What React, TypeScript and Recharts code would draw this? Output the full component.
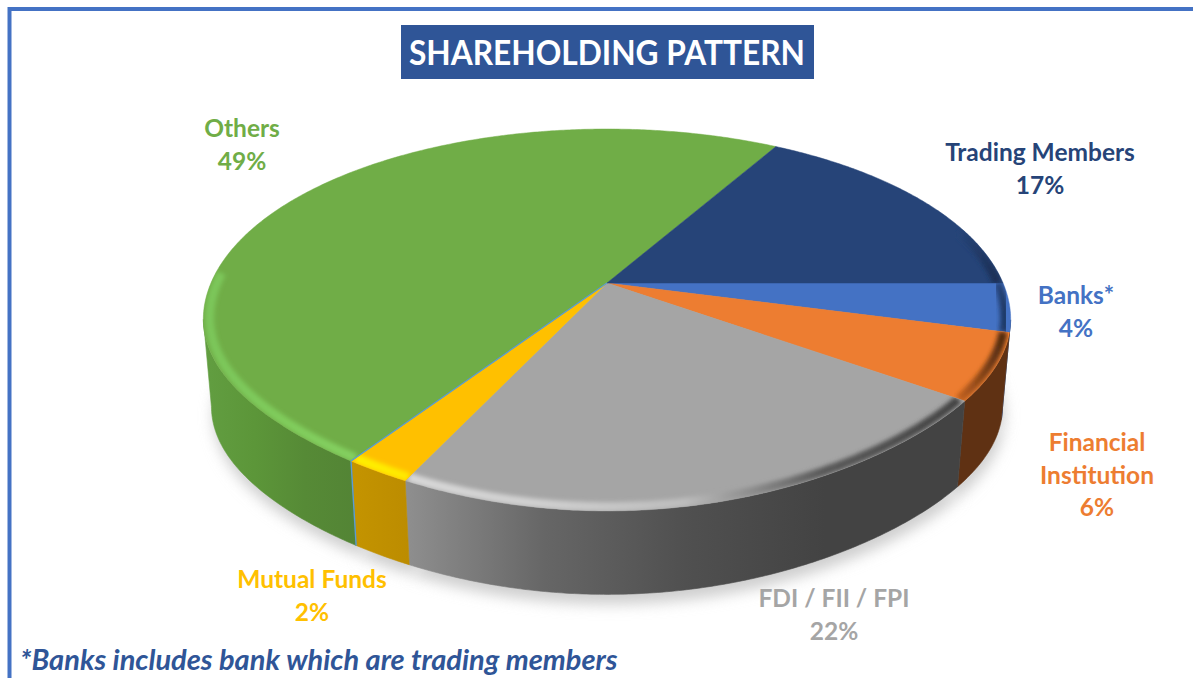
import { PieChart, Pie } from "recharts";

const categories = ["Banks*", "Financial Institution", "FDI / FII / FPI", "Mutual Funds", "Others", "Trading Members"];
const values = [4.3, 6.0, 21.6, 2.2, 49.2, 16.7];
const colors = ["#4472C4", "#ED7D31", "#A5A5A5", "#FFC000", "#70AD47", "#264478"];

// wall shading, left to right
const wallStops = [
  ["#2C4F8C", "#1F3864"],
  ["#5F3113", "#5F3113"],
  ["#8F8F8F", "#666666", "#505050", "#434343", "#434343"],
  ["#C49400", "#BC8C00"],
  ["#629E41", "#5C9639", "#568A36", "#538435"],
  ["#1B2F55", "#1B2F55"],
];
// bevel along the front rim
const bevelStops = [
  ["#2A4A85", "#1F3864"],
  ["#C2611F", "#4F2A10"],
  ["#D8D8D8", "#CFCFCF", "#BDBDBD", "#5A5A5A", "#444444"],
  ["#FFF000", "#FFE800"],
  ["#7CC65A", "#80CC5C", "#84D060"],
  ["#264478", "#1B2F55"],
];

const labelLines: Record<string, string[]> = {
  "Financial Institution": ["Financial", "Institution"],
};
const labelPos: Record<string, [number, number]> = {
  "Banks*": [1076, 304],
  "Financial Institution": [1097, 451],
  "FDI / FII / FPI": [834, 607],
  "Mutual Funds": [312, 588],
  Others: [242, 137],
  "Trading Members": [1040, 161],
};

const data = categories.map((name, i) => ({ name, value: values[i] }));

const FONT = "Lato, 'Noto Sans', sans-serif";
const TILT_K = 0.1937; // perspective of the top face
const TILT_Y = 0.4641;
const SHOULDER = 8; // front rim sits a little higher either side of centre
const BOTTOM_SCALE = 0.98;
const DEPTH = 88;

type Pt = { x: number; y: number };

// angle on the flat pie -> point on the tilted face
const project = (cx: number, cy: number, r: number, deg: number, ratio = 1): Pt => {
  const a = (deg * Math.PI) / 180;
  const u = Math.cos(a) * ratio;
  const v = Math.sin(a) * ratio;
  const d = 1 + TILT_K * v;
  const lift = v < 0 ? SHOULDER * 4 * u * u * v * v : 0;
  return { x: cx + (r * u) / d, y: cy - (r * TILT_Y * v) / d - lift };
};

const toBottom = (p: Pt, cx: number, cy: number): Pt => ({
  x: cx + (p.x - cx) * BOTTOM_SCALE,
  y: cy + (p.y - cy) * BOTTOM_SCALE + DEPTH,
});

const arc = (cx: number, cy: number, r: number, from: number, to: number, maxSin = 2, ratio = 1) => {
  const n = Math.max(2, Math.ceil(Math.abs(to - from) * 2));
  const pts: Pt[] = [];
  for (let i = 0; i <= n; i++) {
    const deg = from + ((to - from) * i) / n;
    if (Math.sin((deg * Math.PI) / 180) < maxSin) pts.push(project(cx, cy, r, deg, ratio));
  }
  return pts;
};

const toPath = (pts: Pt[]) => pts.map((p, i) => `${i ? "L" : "M"}${p.x.toFixed(2)},${p.y.toFixed(2)}`).join(" ");

const ShadowShape = (props: any) => {
  const { cx, cy, outerRadius, startAngle, endAngle } = props;
  const rim = arc(cx, cy, outerRadius, startAngle, endAngle).map((p) => {
    const b = toBottom(p, cx, cy);
    return { x: b.x + 2, y: b.y + 10 };
  });
  return <path d={`${toPath(rim)} L${cx},${cy + DEPTH} Z`} fill="#CFCFCF" filter="url(#softShadow)" />;
};

const WallShape = (props: any) => {
  const { cx, cy, outerRadius, startAngle, endAngle, name } = props;
  const i = categories.indexOf(name);
  // wall is only seen up to where the rim turns away
  const top = arc(cx, cy, outerRadius, startAngle, endAngle, -TILT_K);
  if (top.length < 2) return null;
  const bottom = top.map((p) => toBottom(p, cx, cy)).reverse();
  const d = `${toPath(top)} ${toPath(bottom).replace("M", "L")} Z`;
  return (
    <g>
      <path d={d} fill={`url(#wall-${i})`} stroke={`url(#wall-${i})`} strokeWidth={0.6} />
      {name === "Others" && (
        <path d={toPath([top[0], bottom[bottom.length - 1]])} stroke="#5B9BD5" strokeWidth={1.4} fill="none" />
      )}
    </g>
  );
};

const TopShape = (props: any) => {
  const { cx, cy, outerRadius, startAngle, endAngle, name } = props;
  const i = categories.indexOf(name);
  const rim = arc(cx, cy, outerRadius, startAngle, endAngle);
  const d = `M${cx},${cy} ${toPath(rim).replace("M", "L")} Z`;
  // only the side that faces the viewer catches the bevel
  const front = arc(cx, cy, outerRadius, startAngle, endAngle, name === "Trading Members" ? 0.3 : 0.06, 0.985);
  return (
    <g>
      <clipPath id={`clip-${i}`}>
        <path d={d} />
      </clipPath>
      <path d={d} fill={colors[i]} stroke={colors[i]} strokeWidth={0.5} />
      {front.length > 1 && (
        <g clipPath={`url(#clip-${i})`}>
          <path d={toPath(front)} fill="none" stroke={`url(#bevel-${i})`} strokeWidth={9} filter="url(#softBevel)" />
        </g>
      )}
      {name === "Others" && <path d={toPath([rim[0], { x: cx, y: cy }])} stroke="#5B9BD5" strokeWidth={1.2} fill="none" />}
    </g>
  );
};

const renderLabel = (props: any) => {
  const { name, value, index } = props;
  const [x, y] = labelPos[name];
  const lines = [...(labelLines[name] ?? [name]), `${Math.round(value)}%`];
  return (
    <text key={name} x={x} y={y} textAnchor="middle" fontFamily={FONT} fontWeight={700} fontSize={24.5} fill={colors[index]}>
      {lines.map((line, k) => (
        <tspan key={k} x={x} y={y + k * 32.5}>
          {line}
        </tspan>
      ))}
    </text>
  );
};

const gradient = (id: string, stops: string[]) => (
  <linearGradient key={id} id={id} x1="0" y1="0" x2="1" y2="0">
    {stops.map((c, k) => (
      <stop key={k} offset={stops.length > 1 ? k / (stops.length - 1) : 0} stopColor={c} />
    ))}
  </linearGradient>
);

const App = () => {
  return (
    <div style={{ position: "absolute", left: 0, top: 0, width: 1193, height: 678, overflow: "hidden", background: "#fff" }}>
      <PieChart width={1193} height={678} margin={{ top: 0, right: 0, bottom: 0, left: 0 }}>
        <defs>
          <filter id="softShadow" x="-20%" y="-20%" width="140%" height="140%">
            <feGaussianBlur stdDeviation="7" />
          </filter>
          <filter id="softBevel" x="-10%" y="-30%" width="120%" height="160%">
            <feGaussianBlur stdDeviation="2.2" />
          </filter>
          {wallStops.map((s, i) => gradient(`wall-${i}`, s))}
          {bevelStops.map((s, i) => gradient(`bevel-${i}`, s))}
        </defs>

        <path d="M9.5,678 L9.5,9 L1193,9" fill="none" stroke="#4472C4" strokeWidth={4} />
        <rect x={401} y={25} width={413} height={54} fill="#2F5597" />
        <text
          x={607}
          y={65}
          textAnchor="middle"
          fontFamily={FONT}
          fontWeight={700}
          fontSize={34}
          textLength={396}
          lengthAdjust="spacingAndGlyphs"
          fill="#FFFFFF"
        >
          SHAREHOLDING PATTERN
        </text>
        <text x={20} y={670} fontFamily={FONT} fontWeight={700} fontStyle="italic" fontSize={29} fill="#2F5597">
          *Banks includes bank which are trading members
        </text>

        <Pie
          data={data}
          dataKey="value"
          nameKey="name"
          cx={607}
          cy={283}
          outerRadius={396}
          startAngle={0}
          endAngle={-360}
          stroke="none"
          shape={ShadowShape}
          isAnimationActive={false}
        />
        <Pie
          data={data}
          dataKey="value"
          nameKey="name"
          cx={607}
          cy={283}
          outerRadius={396}
          startAngle={0}
          endAngle={-360}
          stroke="none"
          shape={WallShape}
          isAnimationActive={false}
        />
        <Pie
          data={data}
          dataKey="value"
          nameKey="name"
          cx={607}
          cy={283}
          outerRadius={396}
          startAngle={0}
          endAngle={-360}
          stroke="none"
          shape={TopShape}
          label={renderLabel}
          labelLine={false}
          isAnimationActive={false}
        />
      </PieChart>
    </div>
  );
};

export default App;
